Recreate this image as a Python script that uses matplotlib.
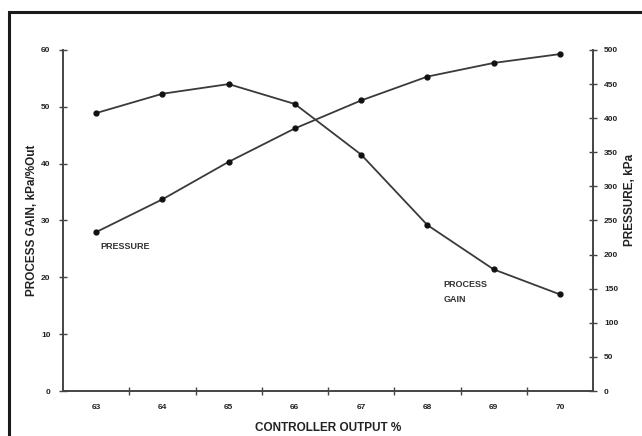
import matplotlib
matplotlib.use("Agg")
import matplotlib.pyplot as plt
from matplotlib.patches import Rectangle

# Controller output (%) and the two measured curves
controller_output = [63, 64, 65, 66, 67, 68, 69, 70]
process_gain = [48.9, 52.3, 54.0, 50.5, 41.6, 29.2, 21.4, 17.0]   # kPa/%Out
pressure = [233, 281, 336, 385, 426, 461, 481, 494]               # kPa

gain_ticks = [0, 10, 20, 30, 40, 50, 60]
pressure_ticks = [0, 50, 100, 150, 200, 250, 300, 350, 400, 450, 500]

plt.rcParams['font.family'] = ['Liberation Sans', 'DejaVu Sans']

line_col = '#3a3a3a'
axis_col = '#444444'

fig = plt.figure(figsize=(6.42, 4.36), dpi=100)
ax = fig.add_axes([63 / 642, 1 - 391 / 436, (593 - 63) / 642, (391 - 50) / 436])
ax2 = ax.twinx()

ax.plot(controller_output, process_gain, color=line_col, lw=1.3,
        marker='o', ms=3.5, mfc='#111111', mec='#111111', zorder=3)
ax2.plot(controller_output, pressure, color=line_col, lw=1.3,
         marker='o', ms=3.5, mfc='#111111', mec='#111111', zorder=3)

ax.set_xlim(controller_output[0] - 0.5, controller_output[-1] + 0.5)
ax.set_ylim(gain_ticks[0], gain_ticks[-1])
ax2.set_ylim(pressure_ticks[0], pressure_ticks[-1])

# x: labels at category centres, tick marks at category boundaries
ax.set_xticks(controller_output)
ax.set_xticklabels([str(v) for v in controller_output])
ax.set_xticks([v + 0.5 for v in controller_output[:-1]], minor=True)
ax.tick_params(axis='x', which='major', length=0, pad=9, labelsize=6,
               labelcolor='#222222')
ax.tick_params(axis='x', which='minor', length=6, direction='inout',
               color=axis_col, width=1)
for lab in ax.get_xticklabels():
    lab.set_fontweight('bold')

ax.set_yticks(gain_ticks)
ax.tick_params(axis='y', length=6, direction='inout', color=axis_col, width=1,
               labelsize=6, labelcolor='#222222', pad=6)
for lab in ax.get_yticklabels():
    lab.set_fontweight('bold')

ax2.set_yticks(pressure_ticks)
ax2.tick_params(axis='y', length=6, direction='inout', color=axis_col, width=1,
                labelsize=6, labelcolor='#222222', pad=5)
for lab in ax2.get_yticklabels():
    lab.set_fontweight('bold')

for a in (ax, ax2):
    a.spines['top'].set_visible(False)
    for s in ('left', 'right', 'bottom'):
        a.spines[s].set_color(axis_col)
        a.spines[s].set_linewidth(1.2)

ax.set_xlabel('CONTROLLER OUTPUT %', fontsize=8.5, fontweight='bold',
              color='#222222')
ax.xaxis.set_label_coords(0.5, -0.092)
ax.set_ylabel('PROCESS GAIN, kPa/%Out', fontsize=8.5, fontweight='bold',
              color='#222222')
ax.yaxis.set_label_coords(-0.048, 0.5)
ax2.set_ylabel('PRESSURE, kPa', fontsize=8.5, fontweight='bold',
               color='#222222', rotation=90)
ax2.yaxis.set_label_coords(1.058, 0.56)

# curve annotations
ax.text(63.07, 25.5, 'PRESSURE', fontsize=6.5, color='#333333',
        fontweight='bold', va='center', ha='left')
ax.text(68.24, 19.5, 'PROCESS\nGAIN', fontsize=6.5, color='#333333',
        fontweight='bold', va='top', ha='left', linespacing=1.9)

# surrounding frame
fig.patches.append(Rectangle((9 / 642, -0.05), 1.0, 1 - 12 / 436 + 0.05,
                             transform=fig.transFigure, fill=False,
                             edgecolor='#1a1a1a', linewidth=2.2))

fig.savefig('out.png', dpi=100, facecolor='white')
